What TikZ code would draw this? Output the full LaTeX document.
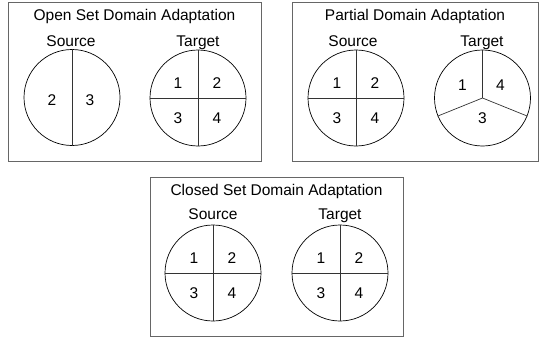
\documentclass[tikz,border=0pt]{standalone}
\usepackage{fontspec}
\setmainfont{Liberation Sans}

\begin{document}
\begin{tikzpicture}[x=1pt,y=-1pt,
  frame/.style={draw=black!60, line width=1pt},
  disc/.style={circle, draw, line width=0.7pt, minimum size=96pt, inner sep=0pt},
  part/.style={line width=0.7pt, black!80},
  lbl/.style={font=\fontsize{15.5}{18}\selectfont, inner sep=0pt},
  head/.style={lbl, anchor=base}]

\useasboundingbox (0,0) rectangle (540,337);

% frames
\draw [frame] (8,3) rectangle (261,161);
\draw [frame] (292,3) rectangle (538,161);
\draw [frame] (150,177) rectangle (403,336);

% open set
\path (134.5,20.5) node[head] (openT) {Open Set Domain Adaptation};
\path (71,46) node[head] (openS) {Source};
\path (198,46) node[head] (openG) {Target};
\path (72,97.5) node[disc] (oS) {};
\path (198,98) node[disc] (oG) {};

\draw [part] (oS.north) -- (oS.south);
\draw [part] (oG.north) -- (oG.south);
\draw [part] (oG.west) -- (oG.east);

\path (oS) ++(-20,3) node[lbl] (oS2) {2};
\path (oS) ++(18,3) node[lbl] (oS3) {3};
\path (oG) ++(-20,-15) node[lbl] (oG1) {1};
\path (oG) ++(19,-15) node[lbl] (oG2) {2};
\path (oG) ++(-20,20.5) node[lbl] (oG3) {3};
\path (oG) ++(19,20.5) node[lbl] (oG4) {4};

% partial
\path (415,20.5) node[head] (partT) {Partial Domain Adaptation};
\path (353,46) node[head] (partS) {Source};
\path (482,46) node[head] (partG) {Target};
\path (356,98) node[disc] (pS) {};
\path (482.5,98) node[disc] (pG) {};

\draw [part] (pS.north) -- (pS.south);
\draw [part] (pS.west) -- (pS.east);
\draw [part] (pG.center) -- (pG.90);
\draw [part] (pG.center) -- (pG.-22);
\draw [part] (pG.center) -- (pG.202);

\path (pS) ++(-19,-15) node[lbl] (pS1) {1};
\path (pS) ++(19,-15) node[lbl] (pS2) {2};
\path (pS) ++(-19,20.5) node[lbl] (pS3) {3};
\path (pS) ++(19,20.5) node[lbl] (pS4) {4};
\path (pG) ++(-20,-13) node[lbl] (pG1) {1};
\path (pG) ++(18,-13) node[lbl] (pG4) {4};
\path (pG) ++(0,20.5) node[lbl] (pG3) {3};

% closed set
\path (276.5,195) node[head] (closT) {Closed Set Domain Adaptation};
\path (213,219.5) node[head] (closS) {Source};
\path (340,219.5) node[head] (closG) {Target};
\path (213,273) node[disc] (cS) {};
\path (340,273) node[disc] (cG) {};

\draw [part] (cS.north) -- (cS.south);
\draw [part] (cS.west) -- (cS.east);
\draw [part] (cG.north) -- (cG.south);
\draw [part] (cG.west) -- (cG.east);

\path (cS) ++(-19,-15) node[lbl] (cS1) {1};
\path (cS) ++(19,-15) node[lbl] (cS2) {2};
\path (cS) ++(-19,20.5) node[lbl] (cS3) {3};
\path (cS) ++(19,20.5) node[lbl] (cS4) {4};
\path (cG) ++(-19,-15) node[lbl] (cG1) {1};
\path (cG) ++(19,-15) node[lbl] (cG2) {2};
\path (cG) ++(-19,20.5) node[lbl] (cG3) {3};
\path (cG) ++(19,20.5) node[lbl] (cG4) {4};

\end{tikzpicture}
\end{document}
